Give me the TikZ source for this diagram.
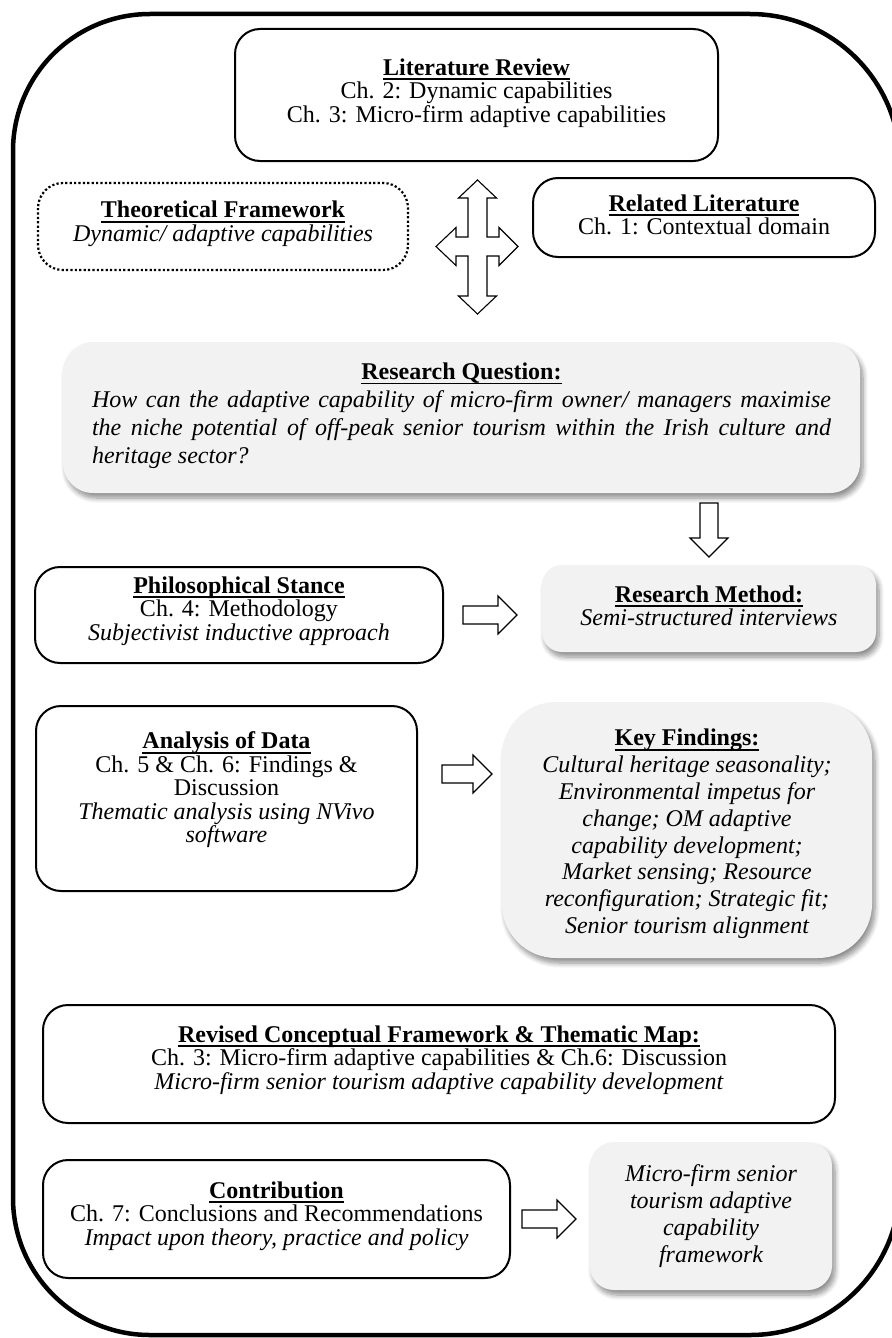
\documentclass[tikz,border=0pt]{standalone}
\usepackage{fontspec}
\setmainfont{Liberation Serif}
\usetikzlibrary{shadows.blur}
\definecolor{boxgrey}{HTML}{F2F2F2}
\newsavebox{\titlebox}
% bold heading with a heavier underline
\newcommand{\boxtitle}[1]{\sbox{\titlebox}{\textbf{#1}}\rlap{\rule[-2.3pt]{\wd\titlebox}{0.8pt}}\usebox{\titlebox}}
\begin{document}
\begin{tikzpicture}[x=0.5pt,y=-0.5pt,
  txt/.style={align=center, inner sep=0pt, font=\fontsize{12}{11.75}\selectfont},
  wbox/.style={draw, line width=1pt, rounded corners=12.5pt},
  dotbox/.style={draw, line width=1.1pt, dash pattern=on 1.1pt off 1.1pt, rounded corners=12.5pt},
  gbox/.style={fill=boxgrey, rounded corners=#1,
    blur shadow={shadow xshift=1.5pt, shadow yshift=-2.5pt, shadow blur radius=2.5pt, shadow blur steps=8, shadow opacity=45}},
  blockline/.style={draw, fill=white, line width=0.55pt, line join=miter},
  pics/rarrow/.style={code={\path[blockline] (0,-9) -- (#1-19,-9) -- (#1-19,-19) -- (#1,0)
      -- (#1-19,19) -- (#1-19,9) -- (0,9) -- cycle;}}
]
\useasboundingbox (0,0) rectangle (892,1338);

% outer frame, its right side running just past the page edge
\draw[line width=2.25pt] (13,700) [rounded corners=68.5pt] -- (13,14) [rounded corners=75pt] -- (900,14)
  -- (900,1335) [rounded corners=68.5pt] -- (13,1335) -- cycle;

% literature blocks
\path[wbox] (235,29) rectangle (718,161);
\node[txt] (lit) at (476.5,93)
  {\boxtitle{Literature Review}\\Ch. 2: Dynamic capabilities\\Ch. 3: Micro-firm adaptive capabilities};
\path[dotbox] (38,183) rectangle (408,270);
\node[txt] (theo) at (223,224)
  {\boxtitle{Theoretical Framework}\\\textit{Dynamic/ adaptive capabilities}};
\path[wbox] (533,178) rectangle (875,257);
\node[txt] (rel) at (704,215)
  {\boxtitle{Related Literature}\\Ch. 1: Contextual domain};

% four-way block arrow
\path[blockline] (477.5,180) -- (496.5,198) -- (487,198) -- (487,237) -- (499,237) -- (499,227.5)
  -- (518,246.5) -- (499,265.5) -- (499,256) -- (487,256) -- (487,296) -- (496.5,296)
  -- (477.5,314) -- (458.5,296) -- (468,296) -- (468,256) -- (456,256) -- (456,265.5)
  -- (436,246.5) -- (456,227.5) -- (456,237) -- (468,237) -- (468,198) -- (458.5,198) -- cycle;

% research question
\path[gbox=15pt] (63,342) rectangle (860,493);
\node[txt, text width=369.5pt, align=justify, font=\fontsize{12}{14}\selectfont] (rq) at (461.5,416)
  {{\centering\boxtitle{Research Question:}\par}\noindent\textit{How can the adaptive capability of micro-firm owner/ managers maximise\linebreak
  the niche potential of off-peak senior tourism within the Irish culture and\linebreak heritage sector?}};

\pic[rotate=-90] at (709,503) {rarrow=54};

% method
\path[wbox] (35,567) rectangle (443,663);
\node[txt] (phil) at (239,611)
  {\boxtitle{Philosophical Stance}\\Ch. 4: Methodology\\\textit{Subjectivist inductive approach}};
\path[gbox=10pt] (542,565) rectangle (876,652);
\node[txt] (meth) at (709,606)
  {\boxtitle{Research Method:}\\\textit{Semi-structured interviews}};
\pic at (463,615) {rarrow=54};

% analysis
\path[wbox] (36,706) rectangle (417,891);
\node[txt] (ana) at (226.5,790)
  {\boxtitle{Analysis of Data}\\Ch. 5 \& Ch. 6: Findings \&\\Discussion\\\textit{Thematic analysis using NVivo}\\\textit{software}};
\path[gbox=27pt] (502,702) rectangle (872,958);
\node[txt, font=\fontsize{12}{13.4}\selectfont] (kf) at (687,834)
  {\boxtitle{Key Findings:}\\\itshape Cultural heritage seasonality;\\\itshape Environmental impetus for\\\itshape change; OM adaptive\\\itshape capability development;\\\itshape Market sensing; Resource\\\itshape reconfiguration; Strategic fit;\\\itshape Senior tourism alignment};
\pic at (442,774) {rarrow=50};

% revised framework
\path[wbox] (43,1005) rectangle (835,1123);
\node[txt] (rev) at (439,1060)
  {\boxtitle{Revised Conceptual Framework \& Thematic Map:}\\Ch. 3: Micro-firm adaptive capabilities \& Ch.6: Discussion\\\textit{Micro-firm senior tourism adaptive capability development}};

% contribution
\path[wbox] (43,1160) rectangle (510,1278);
\node[txt] (con) at (276.5,1216)
  {\boxtitle{Contribution}\\Ch. 7: Conclusions and Recommendations\\\textit{Impact upon theory, practice and policy}};
\path[gbox=12pt] (590,1142) rectangle (832,1290);
\node[txt, font=\fontsize{12}{13.4}\selectfont] (fw) at (711,1216)
  {\itshape Micro-firm senior\\\itshape tourism adaptive\\\itshape capability\\\itshape framework};
\pic at (522,1219) {rarrow=54};
\end{tikzpicture}
\end{document}
